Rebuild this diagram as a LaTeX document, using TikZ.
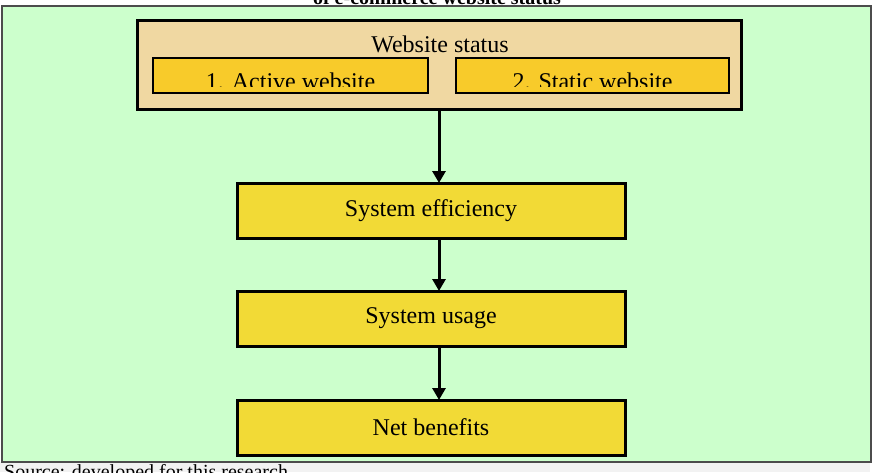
\documentclass[tikz,border=0pt]{standalone}
\usepackage{fontspec}
\setmainfont{Liberation Serif}
\usetikzlibrary{arrows.meta,positioning}
\definecolor{panelgreen}{RGB}{204,255,204}
\definecolor{statfill}{RGB}{240,216,162}
\definecolor{subfill}{RGB}{248,203,42}
\definecolor{boxfill}{RGB}{242,218,54}
\definecolor{stripgray}{RGB}{242,242,242}

\begin{document}
\begin{tikzpicture}[
  x=1pt, y=-1pt,
  font=\fontsize{24}{28}\selectfont,
  node distance=74pt,
  box/.style={draw, line width=3pt, fill=boxfill, minimum width=388pt, minimum height=55pt, inner sep=0pt, outer sep=0pt},
  sub/.style={draw, line width=1.5pt, fill=subfill, minimum height=35pt, inner sep=0pt},
  arr/.style={-{Triangle[length=12pt,width=13pt]}, line width=3pt},
  note/.style={font=\fontsize{20}{24}\selectfont, inner sep=0pt}
]
\useasboundingbox (0,0) rectangle (875,472);
\fill[stripgray] (0,462) rectangle (870,472);
\draw[fill=panelgreen, draw=black!70, line width=1.5pt] (2,6) rectangle (871,462);

\node[note, anchor=base] (cap) at (437,4) {\bfseries of e-commerce website status};
\node[note, anchor=base west] (src) at (4,478) {Source: developed for this research};

\node[draw, line width=3pt, fill=statfill, minimum width=604pt, minimum height=89pt, inner sep=0pt, outer sep=0pt] (web) at (439,64.5) {};
\node[anchor=base, inner sep=0pt] (webtxt) at (440,52) {Website status};
\node[sub, minimum width=275pt] (act) at (290.5,75.5) {};
\node[sub, minimum width=273pt] (sta) at (592.5,75.5) {};
\begin{scope}
\clip (153,58) rectangle (729,86);
\node[anchor=base, inner sep=0pt] (acttxt) at (290.5,89) {1. Active website};
\node[anchor=base, inner sep=0pt] (statxt) at (592.5,89) {2. Static website};
\end{scope}

\node[box, below=74pt of web, xshift=-8pt] (eff) {System efficiency};
\node[box, below=53pt of eff] (use) {System usage};
\node[box, below=54pt of use] (net) {Net benefits};

\draw[arr] (web.south) -- (web.south |- eff.north);
\draw[arr] (web.south |- eff.south) -- (web.south |- use.north);
\draw[arr] (web.south |- use.south) -- (web.south |- net.north);
\end{tikzpicture}
\end{document}
